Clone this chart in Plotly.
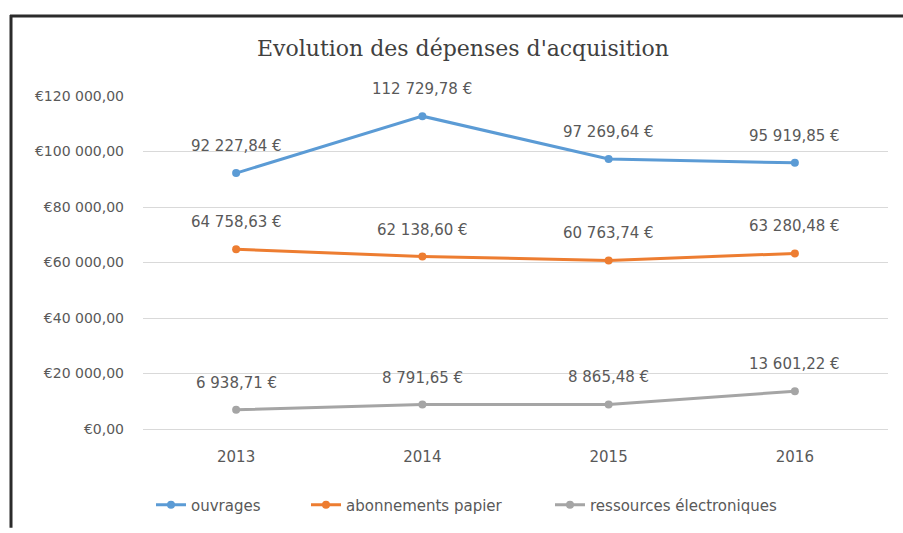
import plotly.graph_objects as go

years = ["2013", "2014", "2015", "2016"]
ouvrages = [92227.84, 112729.78, 97269.64, 95919.85]
abonnements = [64758.63, 62138.60, 60763.74, 63280.48]
ressources = [6938.71, 8791.65, 8865.48, 13601.22]
series_names = ["ouvrages", "abonnements papier", "ressources électroniques"]
colors = ["#5b9bd5", "#ed7d31", "#a5a5a5"]
ytick_vals = [0, 20000, 40000, 60000, 80000, 100000, 120000]
ytick_text = ["€0,00", "€20 000,00", "€40 000,00", "€60 000,00", "€80 000,00", "€100 000,00", "€120 000,00"]
title = "Evolution des dépenses d'acquisition"

FONT = "DejaVu Sans, sans-serif"
GREY = "#595959"


def fmt(v):
    s = f"{v:,.2f}"
    s = s.replace(",", " ").replace(".", ",")
    return s + " €"


# plot area: x 143..888, y 96..433
W, H = 903, 533
L, R, T, B = 143, 15, 96, 100
pw, ph = W - L - R, H - T - B


def px(x):
    return (x - L) / pw


def py(y):
    return (H - B - y) / ph


legend_ids = ["legend", "legend2", "legend3"]
legend_x = [151, 306, 550]

fig = go.Figure()
annotations = []
for k, (name, vals, col) in enumerate(zip(series_names, [ouvrages, abonnements, ressources], colors)):
    fig.add_trace(go.Scatter(
        x=years, y=vals, name=name, mode="lines+markers",
        line=dict(color=col, width=3),
        marker=dict(color=col, size=8, symbol="circle"),
        cliponaxis=False, legend=legend_ids[k],
    ))
    for i, v in enumerate(vals):
        annotations.append(dict(
            x=i, y=v, xref="x", yref="y", text=fmt(v), showarrow=False,
            yshift=27, font=dict(family=FONT, size=15, color=GREY),
        ))

shapes = [
    dict(type="line", xref="paper", yref="paper", x0=px(10), x1=px(903), y0=py(15), y1=py(15),
         line=dict(color="#2b2b2b", width=3)),
    dict(type="line", xref="paper", yref="paper", x0=px(11), x1=px(11), y0=py(14), y1=py(533),
         line=dict(color="#2b2b2b", width=3)),
]

legend_common = dict(orientation="h", yanchor="middle", xanchor="left",
                     font=dict(family=FONT, size=15, color=GREY),
                     bgcolor="rgba(0,0,0,0)", itemwidth=30)

fig.update_layout(
    width=W, height=H,
    margin=dict(l=L, r=R, t=T, b=B),
    paper_bgcolor="white", plot_bgcolor="white",
    title=dict(text=title, x=463 / W, xref="container", xanchor="center",
               y=1 - 48 / H, yref="container", yanchor="middle",
               font=dict(family="DejaVu Serif, serif", size=22, color="#404040")),
    xaxis=dict(type="category", showgrid=False, showline=False, ticks="",
               tickfont=dict(family=FONT, size=15, color=GREY),
               ticklabelstandoff=17,
               range=[-0.5, 3.5], fixedrange=True),
    yaxis=dict(range=[0, 120000], tickvals=ytick_vals, ticktext=ytick_text,
               showgrid=True, gridcolor="#d9d9d9", gridwidth=1,
               zeroline=True, zerolinecolor="#d9d9d9", zerolinewidth=1,
               tickfont=dict(family=FONT, size=14, color=GREY),
               ticklabelstandoff=18, showline=False, ticks=""),
    legend=dict(x=px(legend_x[0]), y=py(510), **legend_common),
    legend2=dict(x=px(legend_x[1]), y=py(510), **legend_common),
    legend3=dict(x=px(legend_x[2]), y=py(510), **legend_common),
    shapes=shapes,
    annotations=annotations,
    showlegend=True,
)

fig.write_html("out.html", config={"displayModeBar": False},
               post_script="document.body.style.margin='0';")
